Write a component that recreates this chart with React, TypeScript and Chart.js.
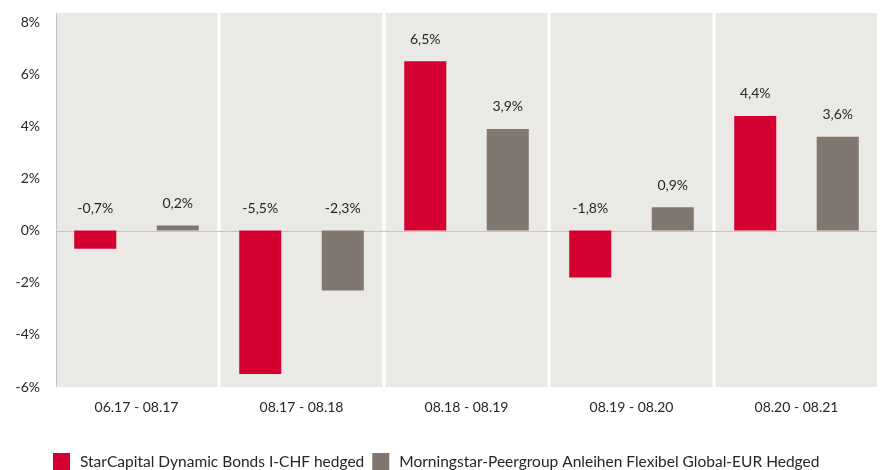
import React, { useEffect, useRef } from "react";
import { Chart, registerables } from "chart.js";

Chart.register(...registerables);

const categories = ["06.17 - 08.17", "08.17 - 08.18", "08.18 - 08.19", "08.19 - 08.20", "08.20 - 08.21"];
const starCapital = [-0.7, -5.5, 6.5, -1.8, 4.4];
const peerGroup = [0.2, -2.3, 3.9, 0.9, 3.6];
const seriesNames = [
  "StarCapital Dynamic Bonds I-CHF hedged",
  "Morningstar-Peergroup Anleihen Flexibel Global-EUR Hedged",
];
const yTicks = [-6, -4, -2, 0, 2, 4, 6, 8];

const RED = "#d50032";
const GREY = "#807870";
const BG = "#ebe9e5";
const TEXT = "#262626";
const FONT = "Lato, 'Open Sans', sans-serif";

const fmt = (v: number) => v.toFixed(1).replace(".", ",") + "%";

const bgPlugin = {
  id: "catBg",
  beforeDatasetsDraw(chart: any) {
    const { ctx, chartArea, scales } = chart;
    const y = scales.y;
    const n = categories.length;
    const w = (chartArea.right - chartArea.left) / n;
    ctx.save();
    ctx.fillStyle = BG;
    for (let i = 0; i < n; i++) {
      let l = chartArea.left + i * w + 1.5;
      let r = chartArea.left + (i + 1) * w - 1.5;
      if (i === 0) l = chartArea.left + 3;
      if (i === n - 1) r = chartArea.right - 2;
      ctx.fillRect(l, chartArea.top, r - l, chartArea.bottom - chartArea.top);
    }
    ctx.strokeStyle = "#c4c4c4";
    ctx.lineWidth = 1;
    ctx.beginPath();
    ctx.moveTo(chartArea.left + 2.5, chartArea.top);
    ctx.lineTo(chartArea.left + 2.5, chartArea.bottom);
    ctx.stroke();
    const y0 = Math.round(y.getPixelForValue(0)) + 0.5;
    ctx.beginPath();
    ctx.moveTo(chartArea.left + 2, y0);
    ctx.lineTo(chartArea.right - 2, y0);
    ctx.stroke();
    ctx.restore();
  },
  afterDatasetsDraw(chart: any) {
    const { ctx, scales } = chart;
    const y0 = scales.y.getPixelForValue(0);
    ctx.save();
    ctx.font = "14px " + FONT;
    ctx.fillStyle = TEXT;
    ctx.textAlign = "center";
    ctx.textBaseline = "middle";
    chart.data.datasets.forEach((ds: any, di: number) => {
      const meta = chart.getDatasetMeta(di);
      meta.data.forEach((bar: any, i: number) => {
        const top = Math.min(bar.y, y0);
        ctx.fillText(fmt(ds.data[i]), bar.x, top - 22);
      });
    });
    ctx.font = "15.5px " + FONT;
    ctx.textAlign = "left";
    let lx = 53;
    const cy = 461.5;
    chart.data.datasets.forEach((ds: any) => {
      ctx.fillStyle = ds.backgroundColor;
      ctx.fillRect(lx, 453, 17, 17);
      ctx.fillStyle = TEXT;
      ctx.fillText(ds.label, lx + 27, cy);
      lx += 27 + ctx.measureText(ds.label).width + 8;
    });
    ctx.restore();
  },
};

export default function App() {
  const ref = useRef<HTMLCanvasElement>(null);
  useEffect(() => {
    document.body.style.margin = "0";
    const chart = new Chart(ref.current!, {
      type: "bar",
      data: {
        labels: categories,
        datasets: [
          { label: seriesNames[0], data: starCapital, backgroundColor: RED },
          { label: seriesNames[1], data: peerGroup, backgroundColor: GREY },
        ],
      },
      options: {
        animation: false,
        responsive: false,
        layout: { padding: { left: 0, right: 6, top: 13, bottom: 53 } },
        datasets: { bar: { categoryPercentage: 1, barPercentage: 0.51 } },
        plugins: { legend: { display: false }, tooltip: { enabled: false } },
        scales: {
          x: {
            grid: { display: false, drawTicks: false },
            border: { display: false },
            ticks: { padding: 12, color: TEXT, font: { size: 14, family: FONT } },
            afterFit: (s: any) => { s.height = 30; s.paddingLeft = 0; s.paddingRight = 0; },
          },
          y: {
            min: -6,
            max: 8.35,
            grid: { display: false, drawTicks: false },
            border: { display: false },
            afterBuildTicks: (s: any) => { s.ticks = yTicks.map((v) => ({ value: v })); },
            afterFit: (s: any) => { s.width = 54; s.paddingTop = 0; s.paddingBottom = 0; },
            ticks: {
              padding: 14,
              color: TEXT,
              font: { size: 14, family: FONT },
              callback: (v: any) => v + "%",
            },
          },
        },
      },
      plugins: [bgPlugin],
    });
    return () => chart.destroy();
  }, []);
  return (
    <div style={{ width: 885, height: 470 }}>
      <canvas ref={ref} width={885} height={470} style={{ display: "block" }} />
    </div>
  );
}
